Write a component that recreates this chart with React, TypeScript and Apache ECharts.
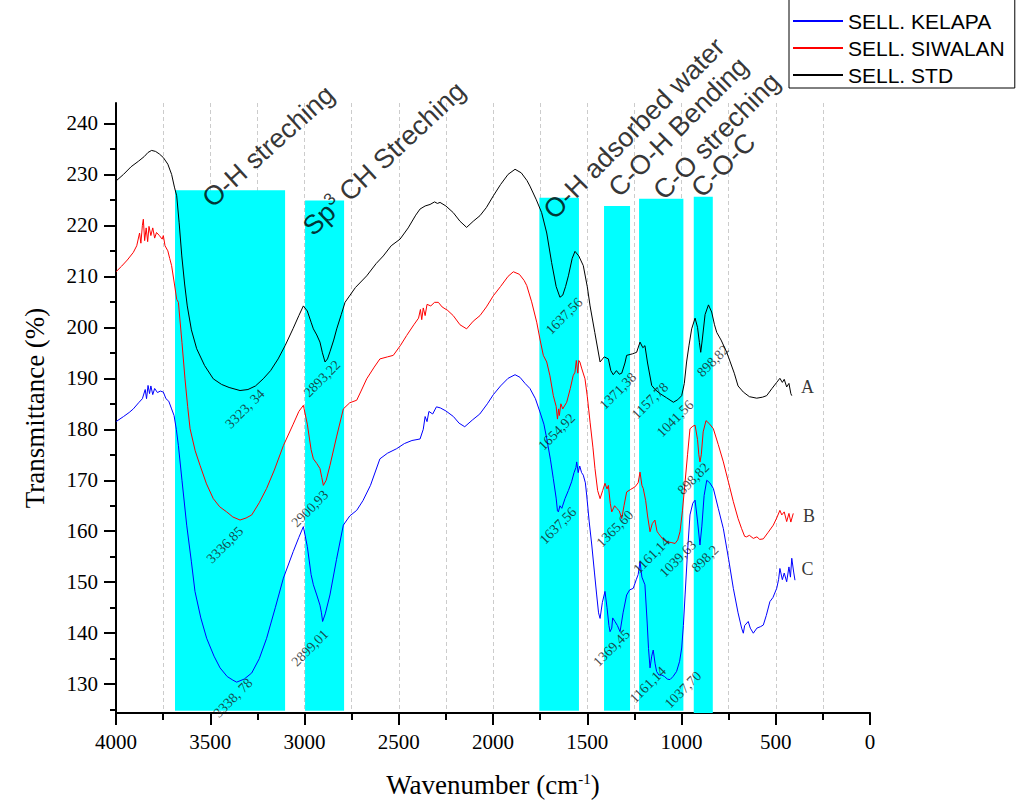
import React, { useEffect, useRef } from 'react';
import * as echarts from 'echarts';

// Wavenumber (cm-1), Transmittance (%)
const std: [number, number][] = [
  [4000,228.7],[3960,230.0],[3920,231.5],[3880,232.6],[3850,233.5],[3830,234.3],[3811,234.7],[3790,234.5],[3770,234.0],[3749,233.3],[3725,232.0],[3705,230.0],[3690,227.5],[3678,225.8],[3665,220.5],[3651,214.0],[3636,208.5],[3622,204.2],[3600,199.5],[3572,195.8],[3530,192.5],[3484,189.9],[3440,188.8],[3400,188.2],[3342,187.6],[3300,187.8],[3260,188.5],[3219,189.9],[3180,191.5],[3140,193.8],[3103,196.4],[3060,199.8],[3030,202.3],[3006,204.2],[2985,203.2],[2965,201.0],[2953,199.7],[2935,198.5],[2918,197.1],[2905,195.0],[2891,193.2],[2878,193.8],[2865,195.2],[2845,197.5],[2829,199.7],[2805,202.5],[2785,204.9],[2730,207.8],[2670,210.1],[2620,212.5],[2582,214.0],[2540,216.0],[2493,217.3],[2450,219.5],[2410,222.0],[2387,223.2],[2360,223.8],[2334,224.1],[2310,224.6],[2295,224.3],[2281,224.5],[2250,223.8],[2211,222.5],[2175,220.8],[2140,219.6],[2105,220.8],[2069,221.9],[2035,223.5],[1998,225.8],[1960,228.0],[1920,230.0],[1883,231.0],[1850,230.3],[1820,228.8],[1804,227.7],[1770,225.0],[1742,222.5],[1715,218.5],[1689,212.7],[1665,208.0],[1645,205.9],[1630,206.3],[1615,208.0],[1600,210.1],[1580,213.5],[1565,214.9],[1545,214.0],[1521,212.1],[1500,208.0],[1485,204.2],[1460,199.0],[1432,193.2],[1410,194.2],[1388,193.8],[1375,191.5],[1362,190.7],[1345,191.5],[1330,190.8],[1317,191.0],[1300,193.0],[1291,194.5],[1260,194.8],[1238,195.1],[1220,197.1],[1205,196.0],[1194,196.4],[1180,193.0],[1158,188.6],[1140,187.8],[1114,187.0],[1080,186.2],[1043,185.3],[1020,185.8],[999,186.6],[985,189.0],[973,193.2],[960,196.5],[946,199.7],[928,201.8],[915,200.0],[905,197.0],[898,195.1],[890,197.5],[875,202.5],[857,204.4],[840,203.0],[825,200.5],[813,199.0],[790,197.5],[760,195.1],[720,191.0],[700,188.5],[672,187.3],[640,186.4],[601,186.1],[570,186.3],[548,186.6],[520,188.0],[495,189.2],[478,190.0],[465,189.2],[455,189.8],[442,188.3],[430,189.0],[420,187.0],[415,186.6]
];

const siwalan: [number, number][] = [
  [4000,210.9],[3970,212.0],[3940,213.2],[3908,214.7],[3890,216.0],[3875,218.5],[3868,216.5],[3860,220.0],[3855,221.2],[3848,217.0],[3840,219.5],[3832,216.8],[3825,219.8],[3815,218.0],[3805,219.5],[3795,217.5],[3785,218.6],[3770,218.0],[3755,217.3],[3749,218.0],[3740,216.0],[3725,215.0],[3715,213.5],[3705,212.1],[3690,208.5],[3678,205.5],[3669,204.9],[3650,197.0],[3634,189.9],[3620,184.5],[3607,180.1],[3580,175.8],[3554,172.9],[3520,169.3],[3484,166.4],[3450,164.8],[3413,163.8],[3380,162.8],[3342,162.2],[3310,162.6],[3280,163.2],[3240,165.6],[3201,168.4],[3160,172.0],[3112,176.8],[3060,181.0],[3030,183.5],[3006,184.7],[2985,181.0],[2965,176.0],[2953,174.2],[2935,173.3],[2918,172.3],[2908,170.5],[2900,169.0],[2885,170.0],[2865,172.9],[2830,178.5],[2794,184.0],[2760,185.2],[2723,185.7],[2700,187.5],[2670,189.9],[2630,192.2],[2600,193.8],[2560,194.2],[2529,194.5],[2490,196.5],[2458,198.4],[2420,200.5],[2395,201.8],[2385,203.5],[2378,201.5],[2370,203.8],[2360,202.3],[2350,204.5],[2330,204.2],[2310,204.9],[2290,204.9],[2270,204.0],[2240,203.3],[2211,202.3],[2175,200.5],[2140,199.7],[2105,201.2],[2069,202.3],[2035,204.0],[1998,206.2],[1960,208.0],[1920,210.0],[1892,210.9],[1860,210.4],[1835,209.2],[1821,208.2],[1795,205.0],[1768,201.0],[1750,197.5],[1733,194.5],[1715,193.2],[1698,190.5],[1680,186.6],[1665,184.5],[1658,182.0],[1652,184.0],[1648,182.7],[1640,185.0],[1630,184.0],[1609,185.3],[1590,188.0],[1575,190.5],[1565,191.2],[1558,193.5],[1550,191.0],[1545,193.5],[1539,193.2],[1530,192.0],[1512,189.9],[1500,186.5],[1485,181.4],[1470,176.5],[1459,172.3],[1445,168.0],[1432,166.4],[1418,168.0],[1406,169.4],[1395,168.3],[1388,169.0],[1378,165.5],[1370,163.8],[1355,165.0],[1344,164.5],[1330,164.0],[1317,162.5],[1305,165.0],[1291,167.7],[1270,168.2],[1247,168.7],[1230,169.5],[1220,171.6],[1210,169.0],[1203,168.4],[1190,166.0],[1180,163.0],[1167,159.9],[1155,161.5],[1141,162.2],[1130,160.0],[1123,159.6],[1100,158.5],[1079,157.9],[1055,157.8],[1034,157.6],[1020,158.3],[1008,159.9],[995,164.0],[981,169.7],[968,175.0],[955,180.1],[940,180.6],[928,180.8],[915,178.0],[908,175.0],[902,173.6],[895,175.0],[885,179.5],[870,181.7],[850,181.0],[831,180.1],[805,177.0],[778,173.6],[750,169.5],[725,165.8],[700,162.5],[681,160.5],[665,159.0],[655,158.9],[640,159.2],[619,158.6],[600,158.9],[585,158.4],[566,158.5],[540,159.8],[513,161.2],[495,162.6],[478,164.1],[468,163.2],[455,163.8],[442,161.9],[430,163.5],[420,161.8],[407,163.5]
];

const kelapa: [number, number][] = [
  [4000,181.5],[3960,182.5],[3930,183.3],[3908,184.0],[3880,185.2],[3860,186.0],[3845,187.8],[3838,186.0],[3830,188.6],[3822,187.0],[3815,188.5],[3805,186.8],[3795,188.0],[3780,187.2],[3765,187.5],[3749,187.3],[3735,186.0],[3720,185.5],[3705,184.0],[3692,182.7],[3680,180.0],[3669,176.8],[3650,170.0],[3625,161.2],[3600,154.0],[3581,148.2],[3550,143.0],[3519,139.0],[3480,135.5],[3448,133.2],[3410,131.5],[3380,130.8],[3360,130.4],[3320,131.0],[3280,132.2],[3240,135.0],[3201,139.0],[3155,145.0],[3112,150.8],[3060,156.0],[3030,158.8],[3006,160.9],[2985,157.0],[2965,151.5],[2953,149.5],[2935,147.5],[2918,145.5],[2910,144.0],[2904,142.3],[2890,143.8],[2865,147.5],[2830,154.5],[2794,161.2],[2760,163.0],[2723,164.1],[2690,166.0],[2650,169.0],[2600,174.2],[2560,175.3],[2511,176.2],[2470,177.2],[2430,177.8],[2387,178.1],[2370,180.0],[2360,182.5],[2350,181.5],[2340,183.5],[2320,183.0],[2300,184.4],[2280,184.2],[2250,183.6],[2210,182.5],[2180,181.2],[2150,180.5],[2110,181.8],[2070,183.0],[2030,185.0],[1998,186.8],[1960,188.5],[1920,190.0],[1883,190.7],[1857,190.2],[1830,189.0],[1804,188.0],[1775,186.0],[1751,183.4],[1730,181.0],[1715,178.2],[1695,174.0],[1680,170.3],[1665,166.5],[1658,164.0],[1653,163.8],[1645,165.0],[1635,164.5],[1618,166.4],[1600,168.0],[1583,169.7],[1570,171.5],[1560,172.5],[1556,173.6],[1548,171.5],[1540,172.8],[1530,171.5],[1521,171.0],[1510,169.5],[1503,167.1],[1490,162.0],[1476,157.3],[1462,152.0],[1450,147.5],[1440,144.0],[1432,142.9],[1420,146.0],[1406,148.2],[1395,145.0],[1385,141.5],[1379,140.3],[1370,141.0],[1365,143.0],[1353,142.3],[1340,141.5],[1326,140.3],[1310,144.0],[1291,147.5],[1275,148.5],[1256,148.8],[1240,150.5],[1230,151.5],[1220,154.0],[1210,151.0],[1194,149.5],[1182,142.0],[1175,137.0],[1167,133.2],[1158,135.5],[1150,136.7],[1140,134.0],[1132,132.5],[1120,131.8],[1105,131.8],[1090,131.5],[1075,131.0],[1061,130.9],[1045,131.5],[1026,132.5],[1010,134.5],[999,137.1],[990,141.5],[981,147.5],[968,156.0],[955,163.2],[940,165.5],[928,166.1],[915,162.0],[902,157.3],[892,161.0],[880,167.0],[866,170.0],[850,169.5],[831,168.4],[805,164.5],[778,160.5],[750,154.5],[725,148.8],[700,144.0],[681,141.0],[672,140.0],[665,141.5],[646,142.3],[635,141.0],[619,140.0],[600,141.0],[580,141.3],[566,141.6],[550,143.5],[531,146.2],[515,147.0],[495,148.8],[485,150.5],[478,152.7],[465,150.5],[455,151.8],[442,150.1],[430,153.0],[422,151.0],[415,154.7],[405,152.0],[398,150.4]
];

const seriesNames = ['SELL. KELAPA', 'SELL. SIWALAN', 'SELL. STD'];
const seriesColors = ['#0000ff', '#ff0000', '#000000'];

// Highlighted absorption bands (wavenumber start/end, transmittance top/bottom)
const bandStart = [3687, 2997, 1754, 1411, 1225, 935];
const bandEnd = [3103, 2790, 1544, 1273, 990, 834];
const bandTop = [226.9, 224.9, 225.4, 223.8, 225.2, 225.6];
const bandBottom = [124.8, 124.8, 124.8, 124.8, 124.8, 124.35];

// Band annotations
const bandLabelText = [
  'O-H streching',
  '{a|Sp}{s|3}{a| CH Streching}',
  'O-H adsorbed water',
  'C-O-H Bending',
  'C-O streching',
  'C-O-C',
];
const bandLabelPos: [number, number][] = [
  [3192, 235.5], [2578, 233.1], [1252, 239.0], [1017, 239.3], [813, 237.5], [778, 231.8],
];
const bandLabelRotate = [42, 43, 45, 45, 45, 45];

// Peak labels
const peakText = [
  '3323, 34', '2893,22', '1637,56', '1371,38', '1157,78', '1041,56', '898,82',
  '3336,85', '2900,93', '1654,92', '1365,60', '1161,14', '1039,63', '898,82',
  '3338, 78', '2899,01', '1637,56', '1369,45', '1161,14', '1037,70', '898,2',
];
const peakPos: [number, number][] = [
  [3316, 184.0], [2907, 189.9], [1623, 202.2], [1337, 187.5], [1167, 185.6], [1034, 182.1], [833, 193.4],
  [3422, 157.3], [2971, 164.4], [1662, 179.5], [1353, 160.5], [1158, 155.3], [1019, 154.6], [937, 170.3],
  [3379, 127.3], [2971, 137.1], [1655, 161.1], [1370, 137.1], [1178, 129.9], [992, 128.9], [875, 154.6],
];

const curveLetters = ['A', 'B', 'C'];
const letterPos: [number, number][] = [[332, 188.3], [324, 162.9], [332, 152.5]];

const yTicks = [130, 140, 150, 160, 170, 180, 190, 200, 210, 220, 230, 240];
const yMinorTicks = [125, 135, 145, 155, 165, 175, 185, 195, 205, 215, 225, 235];

const SERIF = 'Liberation Serif';
const SANS = 'Liberation Sans';

export default function App() {
  const ref = useRef<HTMLDivElement>(null);
  useEffect(() => {
    if (!ref.current) return;
    const chart = echarts.init(ref.current, undefined, { renderer: 'svg' });
    const lines = [kelapa, siwalan, std].map((d, i) => ({
      name: seriesNames[i],
      type: 'line',
      data: d,
      symbol: 'none',
      z: 3,
      lineStyle: { color: seriesColors[i], width: 1 },
      itemStyle: { color: seriesColors[i] },
    }));
    const option: any = {
      animation: false,
      backgroundColor: '#ffffff',
      textStyle: { fontFamily: SERIF },
      grid: { left: 116, right: 151, top: 103, bottom: 94 },
      legend: {
        data: seriesNames,
        orient: 'vertical',
        left: 789,
        top: -3,
        padding: [13, 10, 2, 4],
        itemGap: 5,
        itemWidth: 50,
        itemHeight: 2,
        icon: 'rect',
        borderColor: '#000',
        borderWidth: 1,
        backgroundColor: '#fff',
        textStyle: { fontFamily: SANS, fontSize: 21, color: '#000', lineHeight: 22 },
      },
      xAxis: {
        type: 'value',
        min: 0,
        max: 4000,
        interval: 500,
        inverse: true,
        name: 'Wavenumber (cm{sup|-1})',
        nameLocation: 'middle',
        nameGap: 58,
        nameTextStyle: {
          fontFamily: SERIF, fontSize: 27, color: '#000',
          rich: { sup: { fontFamily: SERIF, fontSize: 15, verticalAlign: 'top', lineHeight: 14 } },
        },
        axisLine: { onZero: false, lineStyle: { color: '#000', width: 2 } },
        axisTick: { length: 12, lineStyle: { color: '#000', width: 2 } },
        minorTick: { show: true, splitNumber: 2, length: 7, lineStyle: { color: '#000', width: 2 } },
        axisLabel: { fontFamily: SERIF, fontSize: 21, color: '#000', margin: 18, formatter: (v: number) => String(v) },
        splitLine: { show: true, showMinLine: false, showMaxLine: false, lineStyle: { color: '#cccccc', type: [4, 3], width: 1 } },
        minorSplitLine: { show: true, lineStyle: { color: '#cccccc', type: [4, 3], width: 1 } },
      },
      yAxis: [
        {
          type: 'value',
          min: 124.35,
          max: 244,
          position: 'left',
          name: 'Transmittance (%)',
          nameLocation: 'middle',
          nameGap: 68,
          nameTextStyle: { fontFamily: SERIF, fontSize: 27, color: '#000' },
          axisLine: { show: true, onZero: false, lineStyle: { color: '#000', width: 2 } },
          axisTick: { show: true, customValues: yTicks, length: 12, lineStyle: { color: '#000', width: 2 } },
          axisLabel: { customValues: yTicks, fontFamily: SERIF, fontSize: 21, color: '#000', margin: 18 },
          splitLine: { show: false },
        },
        {
          type: 'value',
          min: 124.35,
          max: 244,
          position: 'left',
          offset: 0,
          axisLine: { show: false, onZero: false },
          axisTick: { show: true, customValues: yMinorTicks, length: 6, lineStyle: { color: '#000', width: 2 } },
          axisLabel: { show: false },
          splitLine: { show: false },
        },
      ],
      series: [
        {
          type: 'line',
          data: [[0, 124.35]],
          symbol: 'none',
          lineStyle: { opacity: 0 },
          silent: true,
          z: 1,
          markArea: {
            silent: true,
            itemStyle: { color: '#00ffff', opacity: 1 },
            data: bandStart.map((s, i) => [
              { xAxis: s, yAxis: bandBottom[i] },
              { xAxis: bandEnd[i], yAxis: bandTop[i] },
            ]),
          },
        },
        ...lines,
        {
          type: 'scatter',
          symbolSize: 1,
          silent: true,
          z: 6,
          itemStyle: { color: 'rgba(0,0,0,0)' },
          label: {
            show: true, position: 'inside', rotate: 45, formatter: '{b}',
            fontFamily: SERIF, fontSize: 14, color: '#1a1a1a',
          },
          data: peakText.map((t, i) => ({ name: t, value: peakPos[i] })),
        },
        {
          type: 'scatter',
          symbolSize: 1,
          silent: true,
          z: 6,
          itemStyle: { color: 'rgba(0,0,0,0)' },
          label: {
            show: true, position: 'inside', formatter: '{b}',
            fontFamily: SERIF, fontSize: 18, color: '#000',
          },
          data: curveLetters.map((t, i) => ({ name: t, value: letterPos[i] })),
        },
        {
          type: 'scatter',
          symbolSize: 1,
          silent: true,
          z: 6,
          itemStyle: { color: 'rgba(0,0,0,0)' },
          data: bandLabelText.map((t, i) => ({
            name: t,
            value: bandLabelPos[i],
            label: {
              show: true, position: 'inside', rotate: bandLabelRotate[i], formatter: t,
              fontFamily: SANS, fontSize: 27, color: '#000',
              rich: {
                a: { fontFamily: SANS, fontSize: 27, color: '#000', lineHeight: 32 },
                s: { fontFamily: SANS, fontSize: 17, color: '#000', lineHeight: 12, verticalAlign: 'top' },
              },
            },
          })),
        },
      ],
    };
    chart.setOption(option);
    return () => chart.dispose();
  }, []);
  return (
    <div
      ref={ref}
      style={{ position: 'absolute', left: 0, top: 0, width: 1021, height: 807 }}
    />
  );
}
